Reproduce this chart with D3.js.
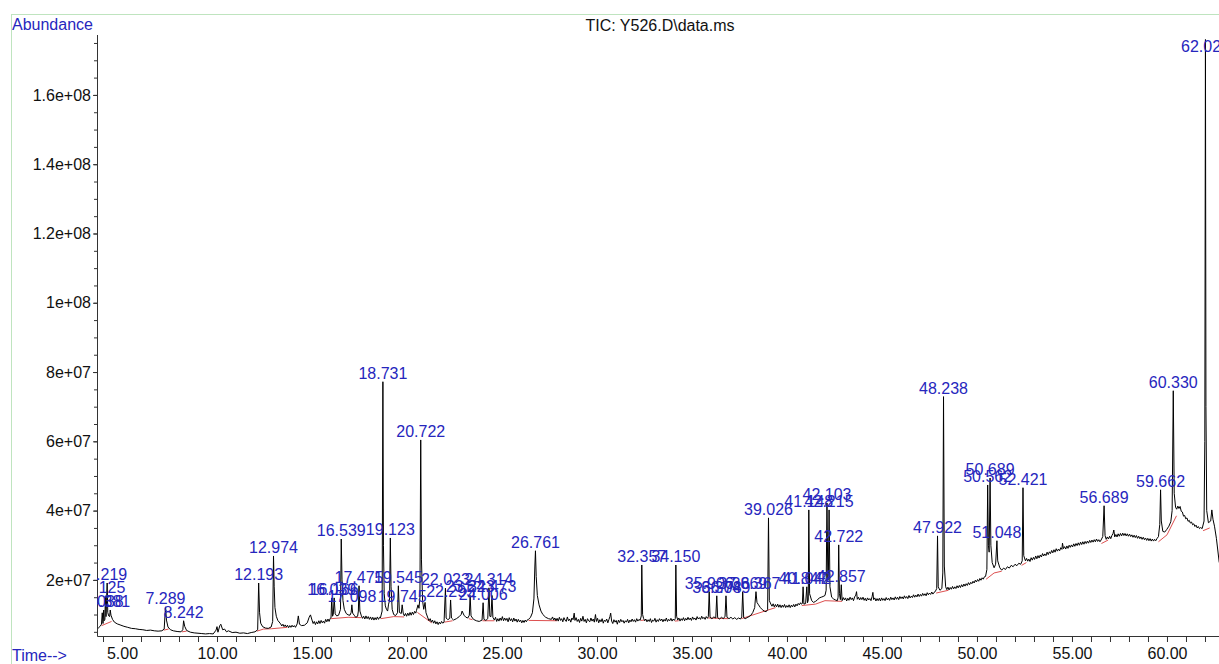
<!DOCTYPE html>
<html><head><meta charset="utf-8">
<script src="https://cdn.jsdelivr.net/npm/d3@7"></script>
<style>
html,body{margin:0;padding:0;background:#fff;}
svg{display:block;font-family:Arial,"Liberation Sans",sans-serif;}
</style></head><body>
<svg id="chart" width="1219" height="664"></svg>
<script>
// ---- DATA (abundance in millions, time in minutes) ----
const xTickValues = [5,10,15,20,25,30,35,40,45,50,55,60];
const xTickLabels = ["5.00","10.00","15.00","20.00","25.00","30.00","35.00","40.00","45.00","50.00","55.00","60.00"];
const yTickValues = [2e7,4e7,6e7,8e7,1e8,1.2e8,1.4e8,1.6e8];
const yTickLabels = ["2e+07","4e+07","6e+07","8e+07","1e+08","1.2e+08","1.4e+08","1.6e+08"];

const peakTimes   = [4.038,4.125,4.219,4.381,7.289,8.242,12.193,12.974,16.039,16.166,16.539,17.098,17.475,18.731,19.123,19.545,19.745,20.722,22.023,22.295,23.323,24.006,24.314,24.473,26.761,32.357,34.150,35.906,36.304,36.789,37.669,38.367,39.026,40.847,41.042,41.148,42.103,42.215,42.722,42.857,47.922,48.238,50.562,50.689,51.048,52.421,56.689,59.662,60.330,62.024];
const peakLabels  = ["4.038","4.125","4.219","4.381","7.289","8.242","12.193","12.974","16.039","16.166","16.539","17.098","17.475","18.731","19.123","19.545","19.745","20.722","22.023","22.295","23.323","24.006","24.314","24.473","26.761","32.357","34.150","35.906","36.304","36.789","37.669","38.367","39.026","40.847","41.042","41.148","42.103","42.215","42.722","42.857","47.922","48.238","50.562","50.689","51.048","52.421","56.689","59.662","60.330","62.024"];
const peakHeights = [11.3,15.4,19.1,11.3,12.2,8.2,19.1,26.9,14.8,14.8,31.8,12.8,18.3,77.2,32.1,18.3,12.8,60.4,17.6,14.2,15.5,13.4,17.7,15.5,28.4,24.3,24.3,16.6,15.4,15.4,16.6,16.6,37.9,18.0,18.0,40.2,42.2,40.2,30.1,18.6,32.7,72.9,47.4,49.4,31.3,46.6,41.4,46.0,74.6,176.0];

const baseline = [
[3.68,6.4],[3.75,6.1],[3.85,6.6],[3.92,7.2],[3.96,10.5],[4.0,7.4],[4.06,8.2],[4.1,8.6],[4.16,9.4],[4.25,10.6],[4.3,9.6],[4.35,9.4],[4.42,9.8],[4.5,8.6],[4.6,7.8],[4.75,7.3],[4.9,7.0],[5.1,6.6],[5.3,6.3],[5.5,6.0],[5.7,5.9],[5.9,5.7],[6.1,5.6],[6.3,5.4],[6.5,5.5],[6.7,5.3],[6.9,5.2],[7.1,5.3],[7.22,5.8],[7.34,8.4],[7.42,6.4],[7.55,5.6],[7.7,5.3],[7.9,5.1],[8.1,5.0],[8.2,5.6],[8.3,6.6],[8.4,5.4],[8.6,4.9],[8.8,4.7],[9.0,4.6],[9.2,4.5],[9.4,4.4],[9.6,4.5],[9.8,4.4],[9.95,5.5],[10.0,6.5],[10.05,4.9],[10.15,6.8],[10.2,7.2],[10.3,5.6],[10.4,5.8],[10.5,5.0],[10.6,5.3],[10.8,4.8],[11.0,4.9],[11.2,4.6],[11.4,4.7],[11.6,4.5],[11.8,4.8],[12.0,5.0],[12.14,5.6],[12.24,10.5],[12.3,7.5],[12.4,6.5],[12.55,6.1],[12.7,6.0],[12.85,6.4],[12.93,8.0],[13.01,18.0],[13.05,12.0],[13.12,9.5],[13.2,8.3],
[13.35,7.3],[13.41,6.7],[13.47,7.2],[13.53,6.5],[13.59,7.0],[13.65,6.4],[13.71,6.9],[13.77,6.2],[13.83,6.8],[13.89,6.3],[13.95,6.9],[14.01,6.4],[14.07,6.8],[14.13,6.3],[14.22,7.3],[14.28,9.6],[14.34,7.2],[14.45,6.8],[14.6,6.9],[14.75,7.6],[14.85,9.2],[14.92,9.9],
[15.0,8.4],[15.06,7.4],[15.12,8.0],[15.18,7.1],[15.24,7.9],[15.3,7.3],[15.36,8.2],[15.42,7.4],[15.48,8.3],[15.54,7.6],[15.6,8.1],[15.66,7.5],[15.72,8.6],[15.78,7.9],[15.84,8.7],[15.9,8.0],[15.96,8.9],[16.0,9.0],[16.08,9.5],[16.12,10.0],[16.22,10.2],[16.3,9.6],[16.4,9.8],[16.5,11.5],[16.58,20.0],[16.63,14.0],[16.7,11.5],[16.8,10.3],[16.9,9.9],[17.0,9.8],[17.06,10.6],[17.14,10.4],[17.22,9.8],[17.3,9.2],[17.4,9.5],[17.44,11.0],[17.52,11.0],
[17.6,9.6],[17.66,8.9],[17.72,9.5],[17.78,8.7],[17.84,9.6],[17.9,8.8],[17.96,9.4],[18.02,8.6],[18.08,9.3],[18.14,8.5],[18.2,9.2],[18.26,8.4],[18.32,9.1],[18.38,8.5],[18.44,9.3],[18.5,8.6],[18.56,9.2],[18.6,9.0],[18.69,11.0],[18.76,30.0],[18.8,16.0],[18.86,12.5],[18.92,11.5],[18.98,11.0],[19.03,13.0],[19.08,14.0],[19.16,18.0],[19.22,11.5],[19.3,10.0],[19.4,9.7],[19.5,10.5],[19.6,10.6],[19.7,10.3],
[19.8,10.4],[19.86,9.6],[19.92,10.3],[19.98,9.5],[20.04,10.4],[20.1,9.7],[20.16,10.6],[20.22,9.8],[20.28,10.7],[20.34,10.0],[20.4,10.9],[20.46,10.4],[20.5,11.2],[20.58,12.8],[20.63,11.8],[20.68,15.0],[20.76,26.0],[20.82,14.0],[20.88,11.5],[20.95,13.5],[21.0,10.5],
[21.1,9.0],[21.16,8.2],[21.22,8.8],[21.28,7.8],[21.34,8.4],[21.4,7.5],[21.46,8.2],[21.52,7.3],[21.58,7.9],[21.64,7.1],[21.7,7.8],[21.76,7.3],[21.82,8.0],[21.88,7.5],[21.95,7.8],[22.06,9.0],[22.15,8.5],[22.25,8.9],[22.34,9.0],[22.45,8.4],[22.6,8.8],[22.75,9.4],[22.85,10.0],[22.9,11.0],[23.0,9.8],[23.1,9.2],[23.2,9.0],[23.28,9.8],[23.37,9.6],[23.5,8.6],[23.65,8.2],[23.8,8.0],[23.95,8.4],[24.05,8.6],[24.15,8.3],[24.25,8.8],[24.36,9.5],[24.42,9.4],[24.52,9.2],
[24.6,8.4],[24.66,9.2],[24.72,8.0],[24.78,8.8],[24.84,8.1],[24.9,9.0],[24.96,8.3],[25.02,9.4],[25.08,8.2],[25.14,9.0],[25.2,8.3],[25.26,8.9],[25.32,7.9],[25.38,9.1],[25.44,8.2],[25.5,8.8],[25.56,7.9],[25.62,9.0],[25.68,8.1],[25.74,8.7],[25.8,7.8],[25.86,8.6],[25.92,7.9],[25.98,8.4],[26.04,7.6],[26.1,8.3],[26.16,7.7],[26.22,8.4],[26.28,7.9],[26.34,8.5],[26.4,8.6],[26.5,9.2],[26.6,10.5],[26.68,14.5],[26.73,24.0],[26.8,21.0],[26.86,15.5],[26.95,12.8],[27.05,11.0],[27.15,10.0],[27.3,9.2],[27.45,8.8],
[27.6,8.6],[27.66,9.3],[27.72,8.4],[27.78,9.0],[27.84,8.2],[27.9,8.9],[27.96,8.1],[28.02,9.2],[28.08,8.3],[28.14,8.8],[28.2,7.9],[28.26,9.1],[28.32,8.4],[28.38,8.0],[28.44,9.3],[28.5,8.2],[28.56,8.7],[28.62,7.8],[28.68,9.0],[28.74,8.5],[28.8,10.4],[28.84,8.3],[28.9,9.1],[28.96,8.0],[29.02,8.6],[29.08,7.7],[29.14,8.9],[29.2,8.1],[29.26,9.5],[29.32,8.0],[29.38,8.6],[29.44,7.6],[29.5,8.8],[29.56,8.2],[29.62,7.9],[29.68,9.0],[29.74,8.1],[29.8,8.7],[29.86,7.8],[29.92,10.0],[29.97,8.0],[30.03,8.9],[30.09,7.6],[30.15,8.5],[30.21,7.9],[30.27,8.8],[30.33,7.5],[30.39,8.4],[30.45,8.0],[30.51,8.7],[30.57,7.6],[30.63,8.6],[30.68,9.4],[30.72,10.4],[30.77,8.1],[30.83,7.4],[30.89,8.5],[30.95,7.8],[31.01,8.3],[31.07,7.2],[31.13,8.4],[31.19,7.7],[31.25,8.6],[31.31,7.9],[31.37,8.3],[31.43,7.5],[31.49,8.2],[31.55,7.8],[31.61,8.6],[31.67,7.6],[31.73,8.4],[31.79,7.9],[31.85,8.7],[31.91,8.0],[31.97,8.5],[32.03,7.8],[32.09,8.8],[32.15,8.1],[32.21,8.6],[32.27,8.3],[32.33,9.6],[32.4,10.0],[32.45,8.9],[32.51,8.2],[32.57,8.7],[32.63,7.9],[32.69,8.5],[32.75,8.0],[32.81,8.8],[32.87,7.7],[32.93,8.4],[32.99,8.1],[33.05,8.9],[33.11,7.8],[33.17,8.5],[33.23,8.0],[33.29,8.8],[33.35,8.2],[33.41,8.7],[33.47,7.9],[33.53,8.6],[33.59,8.1],[33.65,9.0],[33.71,8.0],[33.77,8.6],[33.83,8.2],[33.89,8.9],[33.95,8.1],[34.01,8.7],[34.07,8.3],[34.12,8.8],[34.19,9.5],[34.25,8.4],[34.31,9.0],[34.37,8.1],[34.43,8.8],[34.49,8.3],[34.55,9.1],[34.61,8.2],[34.67,8.9],[34.73,8.4],[34.79,9.2],[34.85,8.5],[34.91,9.0],[34.97,8.3],[35.03,9.3],[35.09,8.6],[35.15,9.0],[35.21,8.4],[35.27,9.4],[35.33,8.7],[35.39,9.1],[35.45,8.6],[35.51,9.5],[35.57,8.8],[35.63,9.2],[35.69,8.6],[35.75,9.4],[35.81,8.9],[35.86,9.4],
[35.95,9.2],[36.05,8.8],[36.15,9.3],[36.25,9.0],[36.35,9.1],[36.45,8.7],[36.55,9.2],[36.65,8.8],[36.74,9.5],[36.84,9.2],[36.95,8.8],[37.05,9.2],[37.15,8.7],[37.25,9.1],[37.35,8.6],[37.45,9.0],[37.55,8.7],[37.62,9.3],[37.72,9.1],[37.8,8.8],[37.9,9.1],[38.0,9.4],[38.1,9.8],[38.2,10.6],[38.3,12.0],[38.42,13.5],[38.5,12.8],[38.6,12.0],[38.7,11.4],[38.8,11.0],[38.9,10.8],[38.98,11.4],[39.07,14.0],
[39.15,13.0],[39.21,12.4],[39.27,13.1],[39.33,12.2],[39.39,12.9],[39.45,12.2],[39.51,13.0],[39.57,12.1],[39.63,12.8],[39.69,12.0],[39.75,12.7],[39.81,12.1],[39.87,12.9],[39.93,12.0],[39.99,12.6],[40.05,12.1],[40.11,12.8],[40.17,12.0],[40.23,12.7],[40.29,12.2],[40.35,12.9],[40.41,12.2],[40.47,13.0],[40.53,12.5],[40.59,13.2],[40.65,12.8],[40.71,13.4],[40.75,13.0],[40.81,13.2],[40.89,13.0],[40.98,13.2],[41.08,13.4],[41.12,14.2],[41.19,16.0],[41.3,14.0],[41.4,13.5],[41.5,13.8],[41.6,14.2],[41.7,14.8],[41.8,15.0],[41.9,15.2],[42.0,15.5],[42.06,17.0],[42.15,20.0],[42.18,22.0],[42.26,18.0],[42.35,15.0],[42.45,14.5],[42.55,14.2],[42.65,14.0],[42.69,15.0],[42.76,16.0],[42.81,14.3],
[42.9,14.0],[42.96,14.9],[43.02,14.2],[43.08,14.8],[43.14,13.9],[43.2,14.7],[43.26,14.1],[43.32,15.0],[43.38,14.3],[43.44,14.8],[43.5,14.0],[43.56,15.1],[43.62,15.6],[43.66,16.6],[43.7,14.4],[43.76,15.0],[43.82,14.2],[43.88,14.9],[43.94,14.3],[44.0,15.0],[44.06,14.1],[44.12,14.7],[44.18,13.9],[44.24,14.8],[44.3,14.2],[44.36,14.6],[44.42,14.0],[44.48,15.2],[44.52,16.4],[44.56,14.3],[44.62,14.8],[44.68,13.9],[44.74,14.6],[44.8,14.0],[44.86,14.7],[44.92,13.9],[44.98,14.8],[45.04,14.1],[45.1,14.6],[45.16,14.0],[45.22,14.9],[45.28,14.2],[45.34,14.7],[45.4,14.1],[45.46,15.0],[45.52,14.3],[45.58,14.8],[45.64,14.2],[45.7,15.1],[45.76,14.4],[45.82,15.0],[45.88,14.3],[45.94,15.2],[46.0,14.6],[46.06,15.1],[46.12,14.5],[46.18,15.4],[46.24,14.7],[46.3,15.2],[46.36,14.6],[46.42,15.5],[46.48,14.8],[46.54,15.3],[46.6,14.9],[46.66,15.7],[46.72,15.0],[46.78,15.6],[46.84,15.1],[46.9,15.9],[46.96,15.2],[47.02,15.8],[47.08,15.3],[47.14,16.1],[47.2,15.5],[47.26,16.0],[47.32,15.4],[47.38,16.3],[47.44,15.7],[47.5,16.2],[47.56,15.8],[47.62,16.5],[47.68,15.9],[47.74,16.4],[47.8,16.6],
[47.88,17.5],[47.96,18.0],[48.05,17.0],[48.15,17.5],[48.2,22.0],[48.28,24.0],
[48.35,18.0],[48.41,17.2],[48.47,17.9],[48.53,17.1],[48.59,17.8],[48.65,17.3],[48.71,18.1],[48.77,17.4],[48.83,18.0],[48.89,17.5],[48.95,18.3],[49.01,17.7],[49.07,18.4],[49.13,17.8],[49.19,18.6],[49.25,18.0],[49.31,18.8],[49.37,18.2],[49.43,18.9],[49.49,18.4],[49.55,19.2],[49.61,18.6],[49.67,19.3],[49.73,18.9],[49.79,19.6],[49.85,19.1],[49.91,19.9],[49.97,19.4],[50.03,20.1],[50.09,19.6],[50.15,20.4],[50.21,19.9],[50.27,20.6],[50.33,20.2],[50.39,20.9],[50.45,21.0],
[50.52,23.0],[50.6,30.0],[50.64,28.0],[50.73,30.0],[50.8,25.0],[50.9,23.5],[50.98,24.5],[51.09,25.5],[51.2,23.5],[51.3,22.8],[51.4,23.4],[51.5,23.0],[51.6,23.8],[51.7,23.4],[51.8,24.2],[51.9,23.8],[52.0,24.5],[52.1,24.1],[52.2,24.8],[52.3,24.5],[52.38,25.5],[52.46,27.0],
[52.55,25.5],[52.61,26.2],[52.67,25.4],[52.73,26.0],[52.79,25.3],[52.85,26.4],[52.91,25.7],[52.97,26.5],[53.03,25.9],[53.09,26.9],[53.15,26.1],[53.21,27.0],[53.27,26.3],[53.33,27.2],[53.39,26.6],[53.45,27.6],[53.51,26.9],[53.57,27.5],[53.63,27.0],[53.69,28.0],[53.75,27.3],[53.81,28.1],[53.87,27.6],[53.93,28.5],[53.99,27.8],[54.05,28.7],[54.11,28.0],[54.17,29.0],[54.23,28.3],[54.29,28.9],[54.35,28.4],[54.41,29.3],[54.47,28.8],[54.5,30.6],[54.55,29.0],[54.61,29.6],[54.67,28.9],[54.73,29.8],[54.79,29.1],[54.85,30.0],[54.91,29.4],[54.97,30.1],[55.03,29.5],[55.09,30.4],[55.15,29.7],[55.21,30.5],[55.27,29.9],[55.33,30.7],[55.39,30.0],[55.45,30.9],[55.51,30.2],[55.57,31.0],[55.63,30.3],[55.69,31.1],[55.75,30.5],[55.81,31.2],[55.87,30.6],[55.93,31.4],[55.99,30.8],[56.05,31.5],[56.11,30.9],[56.17,31.6],[56.23,31.0],[56.29,31.8],[56.35,31.1],[56.41,31.6],[56.47,31.0],[56.53,31.5],[56.62,32.5],[56.74,32.8],[56.8,31.7],[56.86,32.4],[56.92,31.8],[56.98,32.6],[57.04,31.9],[57.1,32.8],[57.16,33.4],[57.2,34.4],[57.25,32.4],[57.31,33.1],[57.37,32.4],[57.43,33.3],[57.49,32.6],[57.55,33.4],[57.61,32.7],[57.67,33.5],[57.73,32.8],[57.79,33.4],[57.85,32.7],[57.91,33.3],[57.97,32.6],[58.03,33.2],[58.09,32.5],[58.15,33.0],[58.21,32.3],[58.27,32.9],[58.33,32.2],[58.39,32.8],[58.45,32.0],[58.51,32.6],[58.57,31.9],[58.63,32.4],[58.69,31.7],[58.75,32.3],[58.81,31.6],[58.87,32.1],[58.93,31.4],[58.99,32.0],[59.05,31.3],[59.11,31.9],[59.17,31.2],[59.23,31.8],[59.29,31.2],[59.35,31.7],[59.41,31.3],[59.47,31.9],[59.55,32.5],
[59.62,36.0],[59.7,37.0],[59.78,34.0],[59.88,33.8],[59.98,34.5],[60.1,35.5],[60.2,36.8],[60.27,40.0],[60.38,45.0],[60.45,41.0],[60.51,40.4],[60.57,41.3],[60.63,40.6],[60.69,41.2],[60.75,39.8],[60.81,39.6],[60.87,38.4],[60.93,38.6],[60.99,37.6],[61.05,37.9],[61.11,36.9],[61.17,37.2],[61.23,36.4],[61.29,36.7],[61.35,35.9],[61.41,36.2],[61.47,35.4],[61.53,35.8],[61.59,35.0],[61.65,35.4],[61.71,34.8],[61.77,35.1],[61.85,34.8],[61.95,37.0],[61.99,60.0],[62.05,70.0],[62.09,40.0],[62.18,36.5],[62.3,37.0],[62.36,40.2],[62.42,37.5],[62.5,35.5],[62.6,32.0],[62.75,25.0]
];

const integrationBaselines = [
 [[3.93,6.8],[4.45,8.0]],
 [[7.2,5.5],[7.45,5.8]],
 [[8.15,5.0],[8.4,5.2]],
 [[12.1,5.2],[12.45,5.8],[12.88,5.9],[13.7,6.3]],
 [[16.0,8.8],[16.9,9.2],[17.6,9.1]],
 [[18.62,8.8],[19.3,9.4],[19.85,9.3]],
 [[20.55,10.6],[21.3,7.6]],
 [[21.97,7.8],[22.4,8.2]],
 [[23.25,8.8],[23.45,8.5]],
 [[23.97,8.2],[24.6,8.2]],
 [[26.4,8.3],[27.9,8.2]],
 [[32.3,8.3],[32.5,8.4]],
 [[34.1,8.1],[34.3,8.2]],
 [[35.85,9.0],[36.9,8.8]],
 [[37.6,8.8],[39.4,12.0]],
 [[40.78,12.6],[41.5,13.0],[42.0,14.0],[42.9,13.8]],
 [[47.85,16.2],[48.5,17.0]],
 [[50.48,20.2],[50.9,22.0],[51.3,22.5]],
 [[52.35,24.2],[52.6,25.0]],
 [[56.55,30.5],[56.9,31.5]],
 [[59.55,31.0],[60.0,33.0],[60.5,38.5]],
 [[61.9,34.2],[62.25,35.0]]
];

// ---- CHART ----
const svg = d3.select("#chart");
const blue = "#2626bd";
const x = d3.scaleLinear().domain([3.684, 62.737]).range([97, 1219]);
const y = d3.scaleLinear().domain([3.8e6, 1.773e8]).range([636, 35]);
const M = 1e6;

// green frame
svg.append("rect").attr("x",11.5).attr("y",14.5).attr("width",1400).attr("height",800)
  .attr("fill","none").attr("stroke","#bfe4bf").attr("stroke-width",1);

const defs = svg.append("defs");
defs.append("clipPath").attr("id","plot").append("rect")
  .attr("x",97).attr("y",30).attr("width",1200).attr("height",606);
defs.append("clipPath").attr("id","lab").append("rect")
  .attr("x",97).attr("y",0).attr("width",1200).attr("height",636);

// trace: baseline merged with peak apices
const trace = baseline.map(d => [d[0], d[1]])
  .concat(peakTimes.map((t,i) => [t, peakHeights[i]]))
  .sort((a,b) => a[0]-b[0]);

const line = d3.line().x(d => x(d[0])).y(d => y(d[1]*M));
const g = svg.append("g").attr("clip-path","url(#plot)");
g.selectAll("path.red").data(integrationBaselines).join("path")
  .attr("class","red").attr("d", line).attr("fill","none")
  .attr("stroke","#dd5050").attr("stroke-width",1);
g.append("path").datum(trace).attr("d", line).attr("fill","none")
  .attr("stroke","#000").attr("stroke-width",1).attr("stroke-linejoin","round");

// axes
const xMinor = d3.range(4, 63, 1);
const yMinor = d3.range(5e6, 1.76e8, 5e6);
svg.append("g").attr("transform","translate(0,636)")
  .call(d3.axisBottom(x).tickValues(xMinor).tickSize(6).tickSizeOuter(0).tickFormat(""))
  .call(a => a.selectAll("line,path").attr("stroke","#333"));
svg.append("g").attr("transform","translate(0,636)")
  .call(d3.axisBottom(x).tickValues(xTickValues).tickSize(6).tickPadding(6).tickSizeOuter(0)
    .tickFormat((d,i) => xTickLabels[i]))
  .call(a => { a.select(".domain").remove(); a.selectAll("line").attr("stroke","#333");
    a.selectAll("text").attr("font-size",16).attr("fill","#111").attr("font-family","Arial, 'Liberation Sans', sans-serif"); });

svg.append("g").attr("transform","translate(97,0)")
  .call(d3.axisLeft(y).tickValues(yMinor).tickSize(3).tickSizeOuter(0).tickFormat(""))
  .call(a => { a.select(".domain").attr("d","M0.5,35V636.5"); a.selectAll("line,path").attr("stroke","#333"); });
svg.append("g").attr("transform","translate(97,0)")
  .call(d3.axisLeft(y).tickValues(yTickValues).tickSize(4).tickPadding(2).tickSizeOuter(0)
    .tickFormat((d,i) => yTickLabels[i]))
  .call(a => { a.select(".domain").remove(); a.selectAll("line").attr("stroke","#333");
    a.selectAll("text").attr("font-size",16).attr("fill","#111").attr("font-family","Arial, 'Liberation Sans', sans-serif"); });

// peak labels
svg.append("g").attr("clip-path","url(#lab)")
  .selectAll("text").data(peakTimes).join("text")
  .attr("x", t => x(t))
  .attr("y", (t,i) => Math.max(y(peakHeights[i]*M) - 3, 52))
  .attr("text-anchor","middle").attr("font-size",16).attr("fill",blue)
  .text((t,i) => peakLabels[i]);

// texts
svg.append("text").attr("x",12).attr("y",30).attr("font-size",16).attr("fill",blue).text("Abundance");
svg.append("text").attr("x",660).attr("y",31).attr("font-size",16).attr("fill","#111")
  .attr("text-anchor","middle").text("TIC: Y526.D\\data.ms");
svg.append("text").attr("x",12).attr("y",661).attr("font-size",16).attr("fill",blue).text("Time-->");
</script>
</body></html>
